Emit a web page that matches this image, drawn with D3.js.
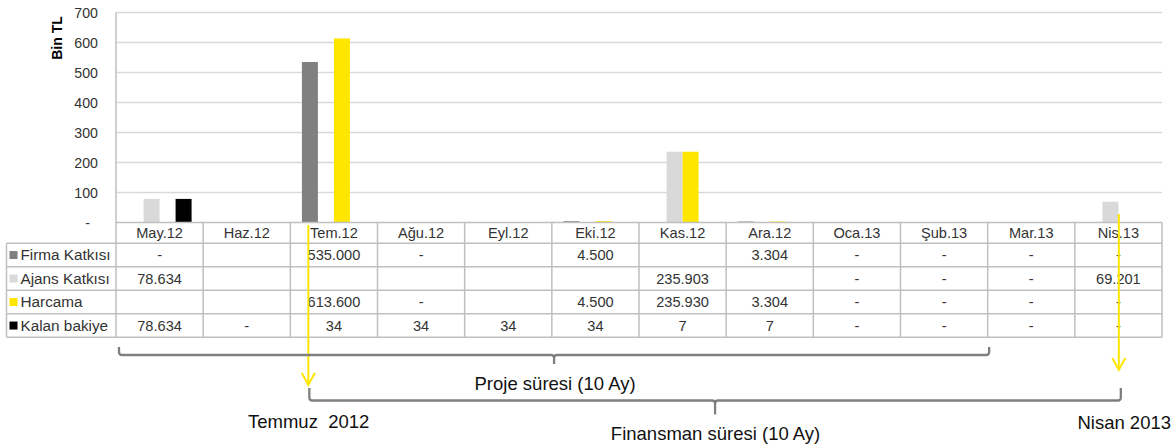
<!DOCTYPE html>
<html>
<head>
<meta charset="utf-8">
<script src="https://cdn.jsdelivr.net/npm/d3@7/dist/d3.min.js"></script>
<style>
  html, body { margin: 0; padding: 0; background: #fff; }
  svg { display: block; font-family: "Liberation Sans", Arial, sans-serif; }
</style>
</head>
<body>
<svg id="chart" width="1174" height="446"></svg>
<script>
// Monthly figures in TL (null = empty cell, 0 = "-")
const categories = ["May.12","Haz.12","Tem.12","Ağu.12","Eyl.12","Eki.12","Kas.12","Ara.12","Oca.13","Şub.13","Mar.13","Nis.13"];
const firmaKatkisi = [0, null, 535000, 0, null, 4500, null, 3304, 0, 0, 0, 0];
const ajansKatkisi = [78634, null, null, null, null, null, 235903, null, 0, 0, 0, 69201];
const harcama      = [null, null, 613600, 0, null, 4500, 235930, 3304, 0, 0, 0, 0];
const kalanBakiye  = [78634, 0, 34, 34, 34, 34, 7, 7, 0, 0, 0, 0];
const seriesNames  = ["Firma Katkısı","Ajans Katkısı","Harcama","Kalan bakiye"];
const seriesColors = ["#808080","#d9d9d9","#ffe600","#000000"];
const yTicks = [0,100,200,300,400,500,600,700];

const series = [firmaKatkisi, ajansKatkisi, harcama, kalanBakiye];

const svg = d3.select("#chart");
const plotLeft = 116, plotRight = 1162, plotTop = 12.5, plotBase = 222.5;

const x = d3.scaleBand().domain(categories).range([plotLeft, plotRight]).padding(0);
const x1 = d3.scaleBand().domain(seriesNames).range([0, x.bandwidth()])
  .paddingInner(0).paddingOuter(0.724);
const y = d3.scaleLinear().domain([0, 700]).range([plotBase, plotTop]);

const gridCol = "#d9d9d9", lineCol = "#bfbfbf", textCol = "#333";

// horizontal gridlines
svg.append("g").selectAll("line").data(yTicks.filter(d => d > 0)).join("line")
  .attr("x1", plotLeft).attr("x2", plotRight)
  .attr("y1", d => y(d)).attr("y2", d => y(d))
  .attr("stroke", gridCol).attr("stroke-width", 1.5);

// y axis labels
const yAxis = d3.axisLeft(y).tickValues(yTicks).tickSize(0).tickPadding(0)
  .tickFormat(d => d === 0 ? "-" : d);
const ga = svg.append("g").attr("transform", `translate(98,0)`).call(yAxis);
ga.select(".domain").remove();
ga.selectAll("text").attr("font-size", 14.2).attr("fill", textCol)
  .attr("font-family", "'Liberation Sans', Arial, sans-serif")
  .attr("dx", d => d === 0 ? -8 : 0);

svg.append("text").attr("transform", "translate(62,38) rotate(-90)")
  .attr("text-anchor", "middle").attr("font-size", 14).attr("font-weight", "bold")
  .attr("fill", "#000").text("Bin TL");

// bars (values in thousand TL)
const barData = [];
series.forEach((s, si) => s.forEach((v, ci) => {
  if (v) barData.push({ cat: categories[ci], name: seriesNames[si], color: seriesColors[si], v: v / 1000 });
}));
svg.append("g").selectAll("rect").data(barData).join("rect")
  .attr("x", d => x(d.cat) + x1(d.name))
  .attr("width", x1.bandwidth())
  .attr("y", d => y(d.v))
  .attr("height", d => plotBase - y(d.v))
  .attr("fill", d => d.color);

// yellow markers for start and end of financing
const arrows = [
  { x: x("Tem.12") + 18, y1: 225, y2: 385 },
  { x: x("Nis.13") + 44, y1: 214, y2: 370 }
];

// data table under the plot
const rowTops = [222.5, 243.3, 266.8, 290.3, 313.8, 337.3];
const tableLeft = 6.5;
const tg = svg.append("g");
tg.append("line").attr("x1", plotLeft).attr("x2", plotRight).attr("y1", rowTops[0]).attr("y2", rowTops[0])
  .attr("stroke", lineCol).attr("stroke-width", 1.5);
rowTops.slice(1).forEach(ry => {
  tg.append("line").attr("x1", tableLeft).attr("x2", plotRight).attr("y1", ry).attr("y2", ry)
    .attr("stroke", lineCol).attr("stroke-width", 1.5);
});
tg.append("line").attr("x1", tableLeft).attr("x2", tableLeft).attr("y1", rowTops[1]).attr("y2", rowTops[5])
  .attr("stroke", lineCol).attr("stroke-width", 1.5);
tg.append("line").attr("x1", plotLeft).attr("x2", plotLeft).attr("y1", plotTop).attr("y2", rowTops[5])
  .attr("stroke", lineCol).attr("stroke-width", 1.5);
categories.forEach(c => {
  const xr = x(c) + x.bandwidth();
  tg.append("line").attr("x1", xr).attr("x2", xr).attr("y1", rowTops[0]).attr("y2", rowTops[5])
    .attr("stroke", lineCol).attr("stroke-width", 1.5);
});
// header labels
tg.selectAll("text.cat").data(categories).join("text").attr("class", "cat")
  .attr("x", d => x(d) + x.bandwidth() / 2).attr("y", 238.3)
  .attr("text-anchor", "middle").attr("font-size", 14.6).attr("fill", textCol).text(d => d);

const fmt = v => v === null ? "" : (v === 0 ? "-" : d3.format(",")(v).replace(/,/g, "."));
series.forEach((s, si) => {
  const cy = (rowTops[si + 1] + rowTops[si + 2]) / 2;
  tg.append("rect").attr("x", 9.5).attr("y", cy - 4).attr("width", 8).attr("height", 8)
    .attr("fill", seriesColors[si]);
  tg.append("text").attr("x", 20.5).attr("y", cy + 5.2).attr("font-size", 15.3)
    .attr("fill", textCol).text(seriesNames[si]);
  tg.selectAll(null).data(s.map((v, i) => ({ v, c: categories[i] }))).join("text")
    .attr("x", d => x(d.c) + x.bandwidth() / 2).attr("y", cy + 5.2)
    .attr("text-anchor", "middle").attr("font-size", 14.6).attr("fill", textCol)
    .text(d => fmt(d.v));
});

// arrows drawn over the table
const ag = svg.append("g").attr("stroke", "#ffe600").attr("stroke-width", 2).attr("fill", "none");
arrows.forEach(a => {
  ag.append("line").attr("x1", a.x).attr("x2", a.x).attr("y1", a.y1).attr("y2", a.y2);
  ag.append("path").attr("d", `M${a.x - 6.5},${a.y2 - 12} L${a.x},${a.y2} L${a.x + 6.5},${a.y2 - 12}`);
});

// duration brackets
function bracket(x0, x1b, yTop, yLine, tickLen, r) {
  const xm = (x0 + x1b) / 2;
  return `M${x0},${yTop} L${x0},${yLine - r} Q${x0},${yLine} ${x0 + r},${yLine} ` +
    `L${xm - r},${yLine} Q${xm},${yLine} ${xm},${yLine + r} L${xm},${yLine + tickLen} ` +
    `M${xm},${yLine + r} Q${xm},${yLine} ${xm + r},${yLine} ` +
    `L${x1b - r},${yLine} Q${x1b},${yLine} ${x1b},${yLine - r} L${x1b},${yTop}`;
}
const bg = svg.append("g").attr("stroke", "#7f7f7f").attr("stroke-width", 2.3).attr("fill", "none");
const projeStart = x("May.12") + 3, projeEnd = x("Şub.13") + x.bandwidth() + 1.5;
bg.append("path").attr("d", bracket(projeStart, projeEnd, 347, 355, 9, 3));
bg.append("path").attr("d", bracket(arrows[0].x + 1, arrows[1].x + 2, 388, 400.5, 14, 3));

const lg = svg.append("g").attr("fill", "#111").attr("font-size", 18.5);
lg.append("text").attr("x", (projeStart + projeEnd) / 2 + 1).attr("y", 390).attr("text-anchor", "middle")
  .text("Proje süresi (10 Ay)");
lg.append("text").attr("x", (arrows[0].x + arrows[1].x) / 2 + 2).attr("y", 440).attr("text-anchor", "middle")
  .text("Finansman süresi (10 Ay)");
lg.append("text").attr("x", 248).attr("y", 428).style("white-space", "pre")
  .text("Temmuz  2012");
lg.append("text").attr("x", 1171).attr("y", 429).attr("text-anchor", "end").text("Nisan 2013");
</script>
</body>
</html>
